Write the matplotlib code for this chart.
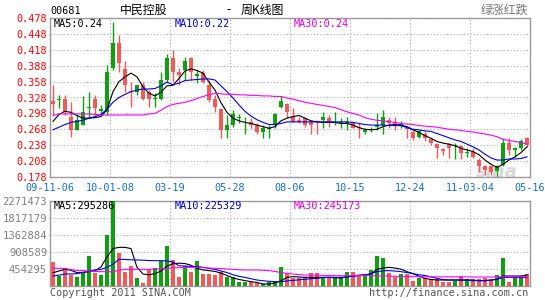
import matplotlib
matplotlib.use('Agg')
import matplotlib.pyplot as plt
import numpy as np

# weekly K-line data, one value per week (80 weeks)
date_labels = ['09-11-06', '10-01-08', '03-19', '05-28', '08-06',
               '10-15', '12-24', '11-03-04', '05-16']

opens = [0.321, 0.323, 0.325, 0.292, 0.267, 0.276, 0.308, 0.326, 0.303, 0.301,
         0.383, 0.430, 0.382, 0.340, 0.338, 0.352, 0.338, 0.325, 0.326, 0.361,
         0.402, 0.377, 0.380, 0.402, 0.369, 0.374, 0.352, 0.326, 0.306, 0.267,
         0.276, 0.290, 0.281, 0.282, 0.276, 0.262, 0.269, 0.276, 0.311, 0.315,
         0.291, 0.286, 0.290, 0.281, 0.284, 0.286, 0.290, 0.279, 0.279, 0.279,
         0.281, 0.273, 0.262, 0.267, 0.273, 0.276, 0.286, 0.281, 0.276, 0.271,
         0.262, 0.254, 0.260, 0.249, 0.240, 0.231, 0.240, 0.237, 0.237, 0.224,
         0.226, 0.210, 0.198, 0.198, 0.189, 0.201, 0.243, 0.229, 0.232, 0.251]
highs = [0.352, 0.333, 0.333, 0.320, 0.295, 0.330, 0.339, 0.333, 0.314, 0.389,
         0.471, 0.446, 0.396, 0.358, 0.352, 0.358, 0.342, 0.336, 0.377, 0.411,
         0.418, 0.383, 0.405, 0.405, 0.380, 0.380, 0.361, 0.333, 0.306, 0.295,
         0.304, 0.296, 0.292, 0.289, 0.279, 0.276, 0.276, 0.298, 0.330, 0.317,
         0.308, 0.292, 0.292, 0.286, 0.286, 0.300, 0.295, 0.300, 0.289, 0.292,
         0.282, 0.279, 0.270, 0.273, 0.298, 0.304, 0.292, 0.292, 0.284, 0.273,
         0.267, 0.267, 0.264, 0.254, 0.242, 0.232, 0.242, 0.242, 0.238, 0.232,
         0.232, 0.213, 0.201, 0.198, 0.201, 0.251, 0.251, 0.235, 0.250, 0.254]
lows = [0.295, 0.308, 0.295, 0.254, 0.267, 0.276, 0.289, 0.295, 0.295, 0.295,
        0.380, 0.377, 0.339, 0.311, 0.333, 0.323, 0.311, 0.311, 0.323, 0.358,
        0.358, 0.352, 0.361, 0.361, 0.355, 0.355, 0.320, 0.301, 0.251, 0.251,
        0.273, 0.279, 0.260, 0.270, 0.260, 0.252, 0.252, 0.270, 0.308, 0.289,
        0.281, 0.279, 0.273, 0.260, 0.260, 0.271, 0.273, 0.276, 0.270, 0.267,
        0.270, 0.251, 0.260, 0.262, 0.267, 0.260, 0.270, 0.267, 0.270, 0.251,
        0.248, 0.251, 0.245, 0.238, 0.213, 0.220, 0.213, 0.212, 0.212, 0.216,
        0.213, 0.188, 0.182, 0.182, 0.176, 0.198, 0.220, 0.216, 0.229, 0.235]
closes = [0.316, 0.325, 0.301, 0.267, 0.286, 0.300, 0.311, 0.308, 0.306, 0.377,
          0.430, 0.393, 0.352, 0.338, 0.352, 0.326, 0.326, 0.326, 0.361, 0.402,
          0.377, 0.370, 0.396, 0.377, 0.372, 0.358, 0.323, 0.311, 0.267, 0.276,
          0.296, 0.292, 0.282, 0.277, 0.262, 0.270, 0.271, 0.296, 0.321, 0.301,
          0.282, 0.281, 0.276, 0.277, 0.281, 0.291, 0.282, 0.281, 0.281, 0.281,
          0.271, 0.270, 0.267, 0.269, 0.276, 0.292, 0.279, 0.274, 0.277, 0.269,
          0.252, 0.264, 0.251, 0.242, 0.232, 0.227, 0.233, 0.238, 0.223, 0.226,
          0.216, 0.198, 0.191, 0.187, 0.198, 0.243, 0.229, 0.232, 0.245, 0.238]

ma5 = [0.283, 0.296, 0.302, 0.300, 0.294, 0.289, 0.289, 0.290, 0.292, 0.305,
       0.339, 0.358, 0.367, 0.374, 0.367, 0.348, 0.336, 0.331, 0.338, 0.350,
       0.351, 0.364, 0.378, 0.382, 0.379, 0.374, 0.357, 0.342, 0.318, 0.300,
       0.289, 0.284, 0.281, 0.279, 0.276, 0.273, 0.270, 0.273, 0.284, 0.289,
       0.292, 0.294, 0.289, 0.284, 0.282, 0.281, 0.281, 0.281, 0.279, 0.279,
       0.276, 0.271, 0.268, 0.267, 0.268, 0.273, 0.276, 0.277, 0.276, 0.273,
       0.267, 0.262, 0.256, 0.251, 0.245, 0.242, 0.240, 0.237, 0.232, 0.229,
       0.226, 0.220, 0.210, 0.202, 0.196, 0.202, 0.210, 0.216, 0.224, 0.235]
ma10 = [0.267, 0.272, 0.277, 0.281, 0.283, 0.285, 0.289, 0.292, 0.296, 0.306,
        0.319, 0.328, 0.334, 0.339, 0.342, 0.344, 0.344, 0.345, 0.350, 0.357,
        0.352, 0.355, 0.360, 0.361, 0.362, 0.363, 0.363, 0.361, 0.350, 0.339,
        0.327, 0.314, 0.302, 0.293, 0.286, 0.281, 0.277, 0.277, 0.279, 0.282,
        0.282, 0.282, 0.282, 0.282, 0.282, 0.282, 0.282, 0.282, 0.282, 0.282,
        0.281, 0.279, 0.277, 0.276, 0.276, 0.276, 0.275, 0.275, 0.275, 0.271,
        0.268, 0.267, 0.265, 0.264, 0.260, 0.256, 0.252, 0.248, 0.245, 0.240,
        0.235, 0.229, 0.221, 0.214, 0.210, 0.210, 0.212, 0.212, 0.213, 0.216]
ma30 = [0.294, 0.297, 0.297, 0.297, 0.297, 0.297, 0.297, 0.296, 0.295, 0.295,
        0.295, 0.295, 0.295, 0.295, 0.295, 0.295, 0.297, 0.298, 0.304, 0.311,
        0.315, 0.317, 0.319, 0.322, 0.326, 0.330, 0.333, 0.336, 0.335, 0.334,
        0.334, 0.333, 0.333, 0.332, 0.332, 0.331, 0.331, 0.330, 0.330, 0.327,
        0.325, 0.322, 0.319, 0.317, 0.315, 0.313, 0.311, 0.309, 0.305, 0.301,
        0.298, 0.295, 0.290, 0.287, 0.285, 0.284, 0.282, 0.281, 0.279, 0.278,
        0.277, 0.275, 0.274, 0.273, 0.272, 0.270, 0.268, 0.267, 0.266, 0.264,
        0.263, 0.261, 0.259, 0.257, 0.254, 0.249, 0.247, 0.245, 0.243, 0.240]

# volumes in thousands of shares
volumes = [650, 267, 472, 294, 232, 383, 802, 356, 294, 1363,
           2271, 891, 383, 534, 223, 89, 428, 490, 668, 1069,
           695, 249, 534, 383, 677, 321, 321, 294, 383, 232,
           232, 116, 116, 116, 89, 53, 116, 116, 499, 356,
           205, 205, 232, 339, 339, 232, 232, 232, 232, 383,
           383, 267, 294, 428, 802, 739, 339, 232, 321, 321,
           143, 205, 205, 178, 178, 116, 116, 143, 267, 178,
           178, 178, 205, 160, 294, 757, 116, 205, 267, 321]
vol_ma5 = [356, 400, 445, 420, 356, 365, 383, 405, 510, 780,
           1000, 1033, 1033, 1000, 500, 320, 300, 330, 400, 530,
           595, 610, 600, 555, 470, 430, 410, 390, 345, 280,
           215, 175, 145, 115, 95, 55, 55, 80, 135, 230,
           250, 240, 232, 232, 232, 232, 232, 220, 215, 250,
           260, 290, 300, 320, 445, 480, 499, 480, 450, 383,
           330, 260, 205, 175, 160, 160, 160, 160, 160, 160,
           155, 143, 143, 160, 178, 267, 267, 267, 267, 295]
vol_ma10 = [267, 290, 321, 321, 330, 360, 400, 430, 445, 500,
            580, 713, 710, 700, 695, 690, 680, 677, 677, 670,
            640, 540, 534, 525, 520, 500, 470, 445, 400, 360,
            300, 260, 230, 195, 160, 140, 125, 116, 116, 135,
            150, 165, 178, 195, 205, 225, 232, 232, 232, 240,
            260, 280, 290, 330, 383, 405, 410, 400, 383, 360,
            330, 300, 280, 245, 205, 170, 160, 160, 160, 155,
            143, 143, 143, 160, 178, 225, 232, 225, 225, 225]
vol_ma30 = [472, 472, 472, 440, 415, 410, 400, 390, 383, 383,
            383, 420, 445, 445, 445, 445, 445, 450, 460, 470,
            490, 490, 495, 499, 499, 490, 480, 472, 465, 455,
            445, 435, 428, 428, 428, 420, 410, 390, 360, 339,
            320, 305, 294, 294, 290, 285, 280, 275, 275, 275,
            275, 280, 275, 275, 267, 267, 267, 260, 255, 250,
            249, 245, 245, 245, 245, 245, 245, 245, 245, 245,
            240, 240, 240, 240, 245, 245, 245, 245, 245, 245]

price_ticks = [0.178, 0.208, 0.238, 0.268, 0.298, 0.328, 0.358, 0.388, 0.418, 0.448, 0.478]
vol_ticks = [454295, 908589, 1362884, 1817179, 2271473]

W, H = 545, 300
UP = '#129e12'
DOWN = '#f05a5a'
GRID = '#b0b0b0'
FRAME = '#9a9a9a'
MONO = 'DejaVu Sans Mono'
CJK = ['Noto Sans CJK SC', 'DejaVu Sans']


def fx(px):
    return px / W


def fy(py):
    return 1 - py / H


def style_axes(ax):
    for s in ax.spines.values():
        s.set_color(FRAME)
        s.set_linewidth(1.0)
    ax.tick_params(length=0)
    ax.grid(True, color=GRID, linestyle=(0, (1, 2)), linewidth=0.8)
    ax.set_axisbelow(True)
    ax.set_xlim(0, 80)
    ax.set_xticks(range(0, 81, 10))


fig = plt.figure(figsize=(W / 100, H / 100), dpi=100)

x = np.arange(len(closes)) + 0.5
o = np.array(opens)
c = np.array(closes)
colors = [UP if cc >= oo else DOWN for oo, cc in zip(o, c)]

# price panel
ax = fig.add_axes([fx(50), fy(177), fx(480), 159 / H])
style_axes(ax)
ax.set_ylim(0.178, 0.478)
ax.set_yticks(price_ticks)
ax.set_yticklabels([f'{v:.3f}' for v in price_ticks], color='#ff0000',
                   fontfamily=MONO, fontsize=7.3)
ax.set_xticklabels(date_labels, color='#1a6fc4', fontfamily=MONO, fontsize=7.3)
ax.tick_params(axis='x', pad=4)
ax.tick_params(axis='y', pad=2)

ax.vlines(x, lows, highs, colors=colors, linewidth=1.0, zorder=2)
body = np.maximum(np.abs(c - o), 0.0012)
ax.bar(x, body, bottom=np.minimum(o, c), width=0.68, color=colors, zorder=3)

ax.plot(x, ma5, color='black', linewidth=0.8, zorder=4)
ax.plot(x, ma10, color='#0000ee', linewidth=0.8, zorder=4)
ax.plot(x, ma30, color='#ff00ff', linewidth=0.8, zorder=4)

ax.text(74.5, 0.188, 'sina', color='#c8c8c8', fontsize=13, fontweight='bold',
        fontstyle='italic', ha='center', va='center', alpha=0.7, zorder=1)

# volume panel
axv = fig.add_axes([fx(50), fy(286), fx(480), 85 / H])
style_axes(axv)
axv.set_ylim(0, 2271473)
axv.set_yticks(vol_ticks)
axv.set_yticklabels([str(v) for v in vol_ticks], color='#808080',
                    fontfamily=MONO, fontsize=7.6)
axv.tick_params(axis='y', pad=2)
axv.set_xticklabels([])

vol = np.array(volumes) * 1000
axv.bar(x, vol, width=0.82, color=colors, zorder=3)
axv.plot(x, np.array(vol_ma5) * 1000, color='black', linewidth=0.8, zorder=4)
axv.plot(x, np.array(vol_ma10) * 1000, color='#0000ee', linewidth=0.8, zorder=4)
axv.plot(x, np.array(vol_ma30) * 1000, color='#ff00ff', linewidth=0.8, zorder=4)

# legends
fig.text(fx(54), fy(24), 'MA5:0.24', color='black', fontfamily=MONO, fontsize=7.3, va='center')
fig.text(fx(175), fy(24), 'MA10:0.22', color='#0000cc', fontfamily=MONO, fontsize=7.3, va='center')
fig.text(fx(294), fy(24), 'MA30:0.24', color='#dd00dd', fontfamily=MONO, fontsize=7.3, va='center')
fig.text(fx(54), fy(206), 'MA5:295286', color='black', fontfamily=MONO, fontsize=7.3, va='center')
fig.text(fx(175), fy(206), 'MA10:225329', color='#0000cc', fontfamily=MONO, fontsize=7.3, va='center')
fig.text(fx(294), fy(206), 'MA30:245173', color='#dd00dd', fontfamily=MONO, fontsize=7.3, va='center')

# titles
fig.text(fx(50), fy(11), '00681', color='black', fontfamily=MONO, fontsize=7.3, va='center')
fig.text(fx(120), fy(10), '中民控股', color='black', family=CJK, fontsize=8.6, va='center')
fig.text(fx(226), fy(10), '-', color='black', family=CJK, fontsize=8.6, va='center')
fig.text(fx(241), fy(10), '周K线图', color='black', family=CJK, fontsize=8.6, va='center')
fig.text(fx(528), fy(10), '绿涨红跌', color='#777777', family=CJK, fontsize=8.6,
         va='center', ha='right')

# footer
fig.text(fx(50), fy(293), 'Copyright 2011 SINA.COM', color='#555555',
         fontfamily=MONO, fontsize=7.3, va='center')
fig.text(fx(528), fy(293), 'http://finance.sina.com.cn', color='#555555',
         fontfamily=MONO, fontsize=7.3, va='center', ha='right')

fig.savefig('out.png', dpi=100)
